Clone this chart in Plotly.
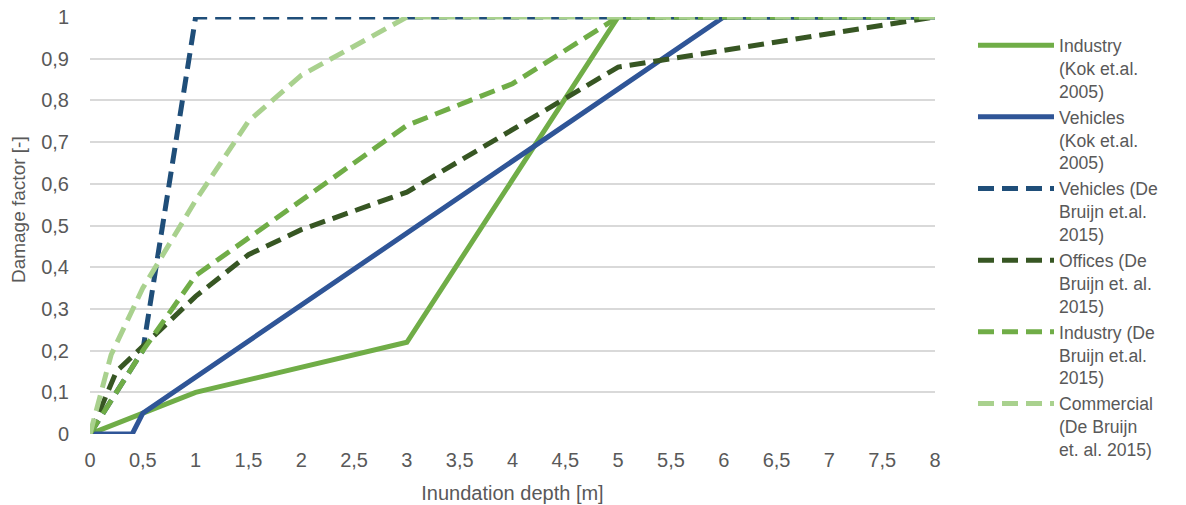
import plotly.graph_objects as go

# Damage curves: inundation depth [m] vs. damage factor [-]
industry_kok_depth = [0, 1, 3, 5, 8]
industry_kok_factor = [0, 0.10, 0.22, 1.0, 1.0]

vehicles_kok_depth = [0, 0.4, 0.5, 6, 8]
vehicles_kok_factor = [0, 0, 0.05, 1.0, 1.0]

vehicles_db_depth = [0, 0.5, 1, 8]
vehicles_db_factor = [0, 0.20, 1.0, 1.0]

offices_db_depth = [0, 0.25, 0.5, 1, 1.5, 2, 3, 4, 5, 6, 7, 8]
offices_db_factor = [0, 0.15, 0.21, 0.33, 0.43, 0.49, 0.58, 0.73, 0.88, 0.92, 0.96, 1.0]

industry_db_depth = [0, 0.5, 1, 1.5, 2, 3, 4, 5, 8]
industry_db_factor = [0, 0.20, 0.38, 0.47, 0.56, 0.74, 0.84, 1.0, 1.0]

commercial_db_depth = [0, 0.2, 0.5, 1, 1.5, 2, 2.5, 3, 8]
commercial_db_factor = [0, 0.19, 0.35, 0.56, 0.75, 0.86, 0.93, 1.0, 1.0]

x_tick_vals = [0, 0.5, 1, 1.5, 2, 2.5, 3, 3.5, 4, 4.5, 5, 5.5, 6, 6.5, 7, 7.5, 8]
x_tick_text = ["0", "0,5", "1", "1,5", "2", "2,5", "3", "3,5", "4", "4,5",
               "5", "5,5", "6", "6,5", "7", "7,5", "8"]
y_tick_vals = [0, 0.1, 0.2, 0.3, 0.4, 0.5, 0.6, 0.7, 0.8, 0.9, 1.0]
y_tick_text = ["0", "0,1", "0,2", "0,3", "0,4", "0,5", "0,6", "0,7", "0,8", "0,9", "1"]

series = [
    ("Industry<br>(Kok et.al.<br>2005)", industry_kok_depth, industry_kok_factor, "#70AD47", "solid"),
    ("Vehicles<br>(Kok et.al.<br>2005)", vehicles_kok_depth, vehicles_kok_factor, "#2F5597", "solid"),
    ("Vehicles (De<br>Bruijn et.al.<br>2015)", vehicles_db_depth, vehicles_db_factor, "#1F4E79", "16px,8px"),
    ("Offices (De<br>Bruijn et. al.<br>2015)", offices_db_depth, offices_db_factor, "#375623", "16px,8px"),
    ("Industry (De<br>Bruijn et.al.<br>2015)", industry_db_depth, industry_db_factor, "#70AD47", "16px,8px"),
    ("Commercial<br>(De Bruijn<br>et. al. 2015)", commercial_db_depth, commercial_db_factor, "#A9D18E", "16px,8px"),
]

fig = go.Figure()
for name, xs, ys, color, dash in series:
    fig.add_trace(go.Scatter(
        x=xs, y=ys, name=name, mode="lines",
        line=dict(color=color, width=5, dash=dash),
    ))

text_color = "#595959"
font_family = "Arial, Liberation Sans, sans-serif"

fig.update_layout(
    width=1186, height=505,
    margin=dict(l=90, r=251, t=17, b=71),
    paper_bgcolor="white", plot_bgcolor="white",
    font=dict(family=font_family, size=20, color=text_color),
    showlegend=True,
    legend=dict(
        xref="container", yref="container",
        x=0.8204, y=0.946, xanchor="left", yanchor="top",
        font=dict(size=17.6, color=text_color),
        itemwidth=76, valign="top", tracegroupgap=0,
        maxheight=500,
        bgcolor="rgba(0,0,0,0)",
    ),
    xaxis=dict(
        range=[0, 8], tickvals=x_tick_vals, ticktext=x_tick_text,
        showgrid=False, zeroline=False, showline=False, automargin=False,
        ticks="", ticklabelstandoff=12,
        title=dict(text="Inundation depth [m]", standoff=15,
                   font=dict(size=20, color=text_color)),
    ),
    yaxis=dict(
        range=[0, 1], tickvals=y_tick_vals, ticktext=y_tick_text,
        showgrid=True, gridcolor="#D9D9D9", gridwidth=1.5,
        zeroline=False, showline=False, automargin=False,
        ticks="", ticklabelstandoff=20,
    ),
    annotations=[dict(
        text="Damage factor [-]", textangle=-90,
        xref="paper", yref="paper", x=-0.0852, y=0.537,
        xanchor="center", yanchor="middle", showarrow=False,
        font=dict(size=19, color=text_color),
    )],
)

fig.write_html("out.html")
